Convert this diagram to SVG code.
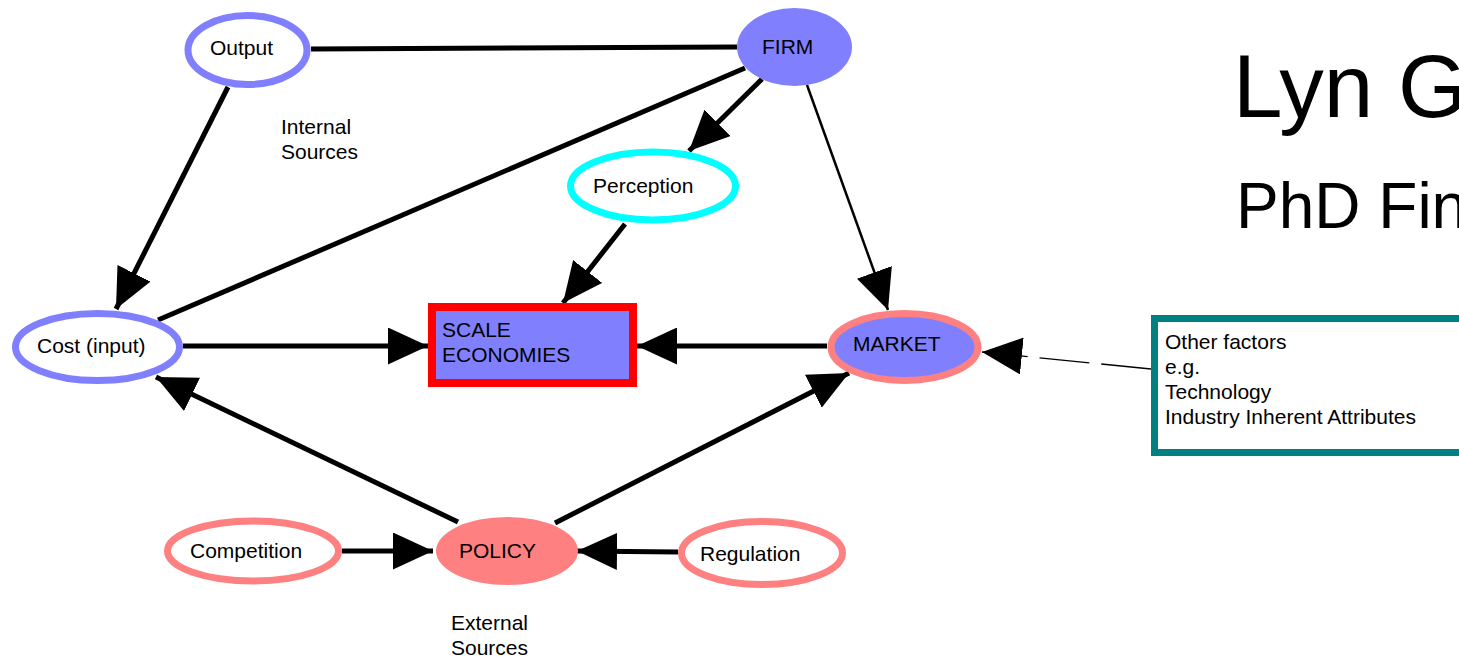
<svg xmlns="http://www.w3.org/2000/svg" width="1459" height="658" viewBox="0 0 1459 658">
<style>
text{font-family:"Liberation Sans",Arial,sans-serif;font-size:21px;fill:#000}
.title{font-size:89px}
.sub{font-size:64px}
.c{fill:none;stroke:#000;stroke-width:5}
.thin{stroke-width:2.5}
.dash{fill:none;stroke:#000;stroke-width:1.3;stroke-dasharray:50 12}
.blueO{fill:#fff;stroke:#8080ff;stroke-width:7}
.pinkO{fill:#fff;stroke:#ff8080;stroke-width:7}
</style>
<defs>
<marker id="ah" markerUnits="userSpaceOnUse" markerWidth="40" markerHeight="37" refX="40" refY="18.5" orient="auto">
<path d="M0,0 L40,18.5 L0,37 Z" fill="#000"/>
</marker>
</defs>
<rect width="1459" height="658" fill="#fff"/>
<g id="connectors">
<line class="c" x1="311" y1="49" x2="737" y2="47"/>
<line class="c" x1="228" y1="87" x2="116" y2="309" marker-end="url(#ah)"/>
<line class="c" x1="745" y1="68" x2="158" y2="320"/>
<line class="c" x1="762" y1="79" x2="689" y2="151" marker-end="url(#ah)"/>
<line class="c thin" x1="807" y1="85" x2="888" y2="310" marker-end="url(#ah)"/>
<line class="c" x1="625" y1="224" x2="563" y2="303" marker-end="url(#ah)"/>
<line class="c" x1="183" y1="346" x2="428" y2="346" marker-end="url(#ah)"/>
<line class="c" x1="827" y1="346" x2="637" y2="346" marker-end="url(#ah)"/>
<line class="c" x1="458" y1="522" x2="156" y2="377" marker-end="url(#ah)"/>
<line class="c" x1="555" y1="523" x2="849" y2="373" marker-end="url(#ah)"/>
<line class="c" x1="342" y1="551" x2="433" y2="551" marker-end="url(#ah)"/>
<line class="c" x1="678" y1="552" x2="577" y2="551" marker-end="url(#ah)"/>
<line class="dash" x1="1151" y1="369" x2="982" y2="352" marker-end="url(#ah)"/>
</g>
<g id="output"><ellipse class="blueO" cx="247.5" cy="50" rx="59.5" ry="34.5"/><text x="210" y="55">Output</text></g>
<g id="firm"><ellipse cx="794.5" cy="47" rx="57.5" ry="39" fill="#8080ff"/><text x="762" y="54">FIRM</text></g>
<g id="perception"><ellipse cx="653" cy="186" rx="82.5" ry="34" fill="#fff" stroke="#00ffff" stroke-width="7"/><text x="593" y="193">Perception</text></g>
<g id="cost"><ellipse class="blueO" cx="97.5" cy="347" rx="82" ry="33.5"/><text x="37" y="353">Cost (input)</text></g>
<g id="scale"><rect x="432" y="307" width="201" height="76" fill="#8080ff" stroke="#ff0000" stroke-width="8"/><text x="442" y="337">SCALE</text><text x="442" y="362">ECONOMIES</text></g>
<g id="market"><ellipse cx="904.5" cy="347" rx="73.5" ry="33.5" fill="#8080ff" stroke="#ff8080" stroke-width="7"/><text x="853" y="351">MARKET</text></g>
<g id="other"><rect x="1154.5" y="318.5" width="330" height="134" fill="#fff" stroke="#008080" stroke-width="7"/><text x="1165" y="349">Other factors</text><text x="1165" y="374">e.g.</text><text x="1165" y="399">Technology</text><text x="1165" y="424">Industry Inherent Attributes</text></g>
<g id="policy"><ellipse cx="507" cy="551" rx="71" ry="34" fill="#ff8080"/><text x="459" y="558">POLICY</text></g>
<g id="competition"><ellipse class="pinkO" cx="253" cy="551" rx="85.5" ry="30"/><text x="190" y="558">Competition</text></g>
<g id="regulation"><ellipse class="pinkO" cx="762" cy="553" rx="80.5" ry="31.5"/><text x="700" y="561">Regulation</text></g>
<g id="labels">
<text x="281" y="134">Internal</text><text x="281" y="159">Sources</text>
<text x="451" y="630">External</text><text x="451" y="655">Sources</text>
<text class="title" x="1233" y="117">Lyn G</text>
<text class="sub" x="1236" y="228">PhD Fin</text>
</g>
</svg>
